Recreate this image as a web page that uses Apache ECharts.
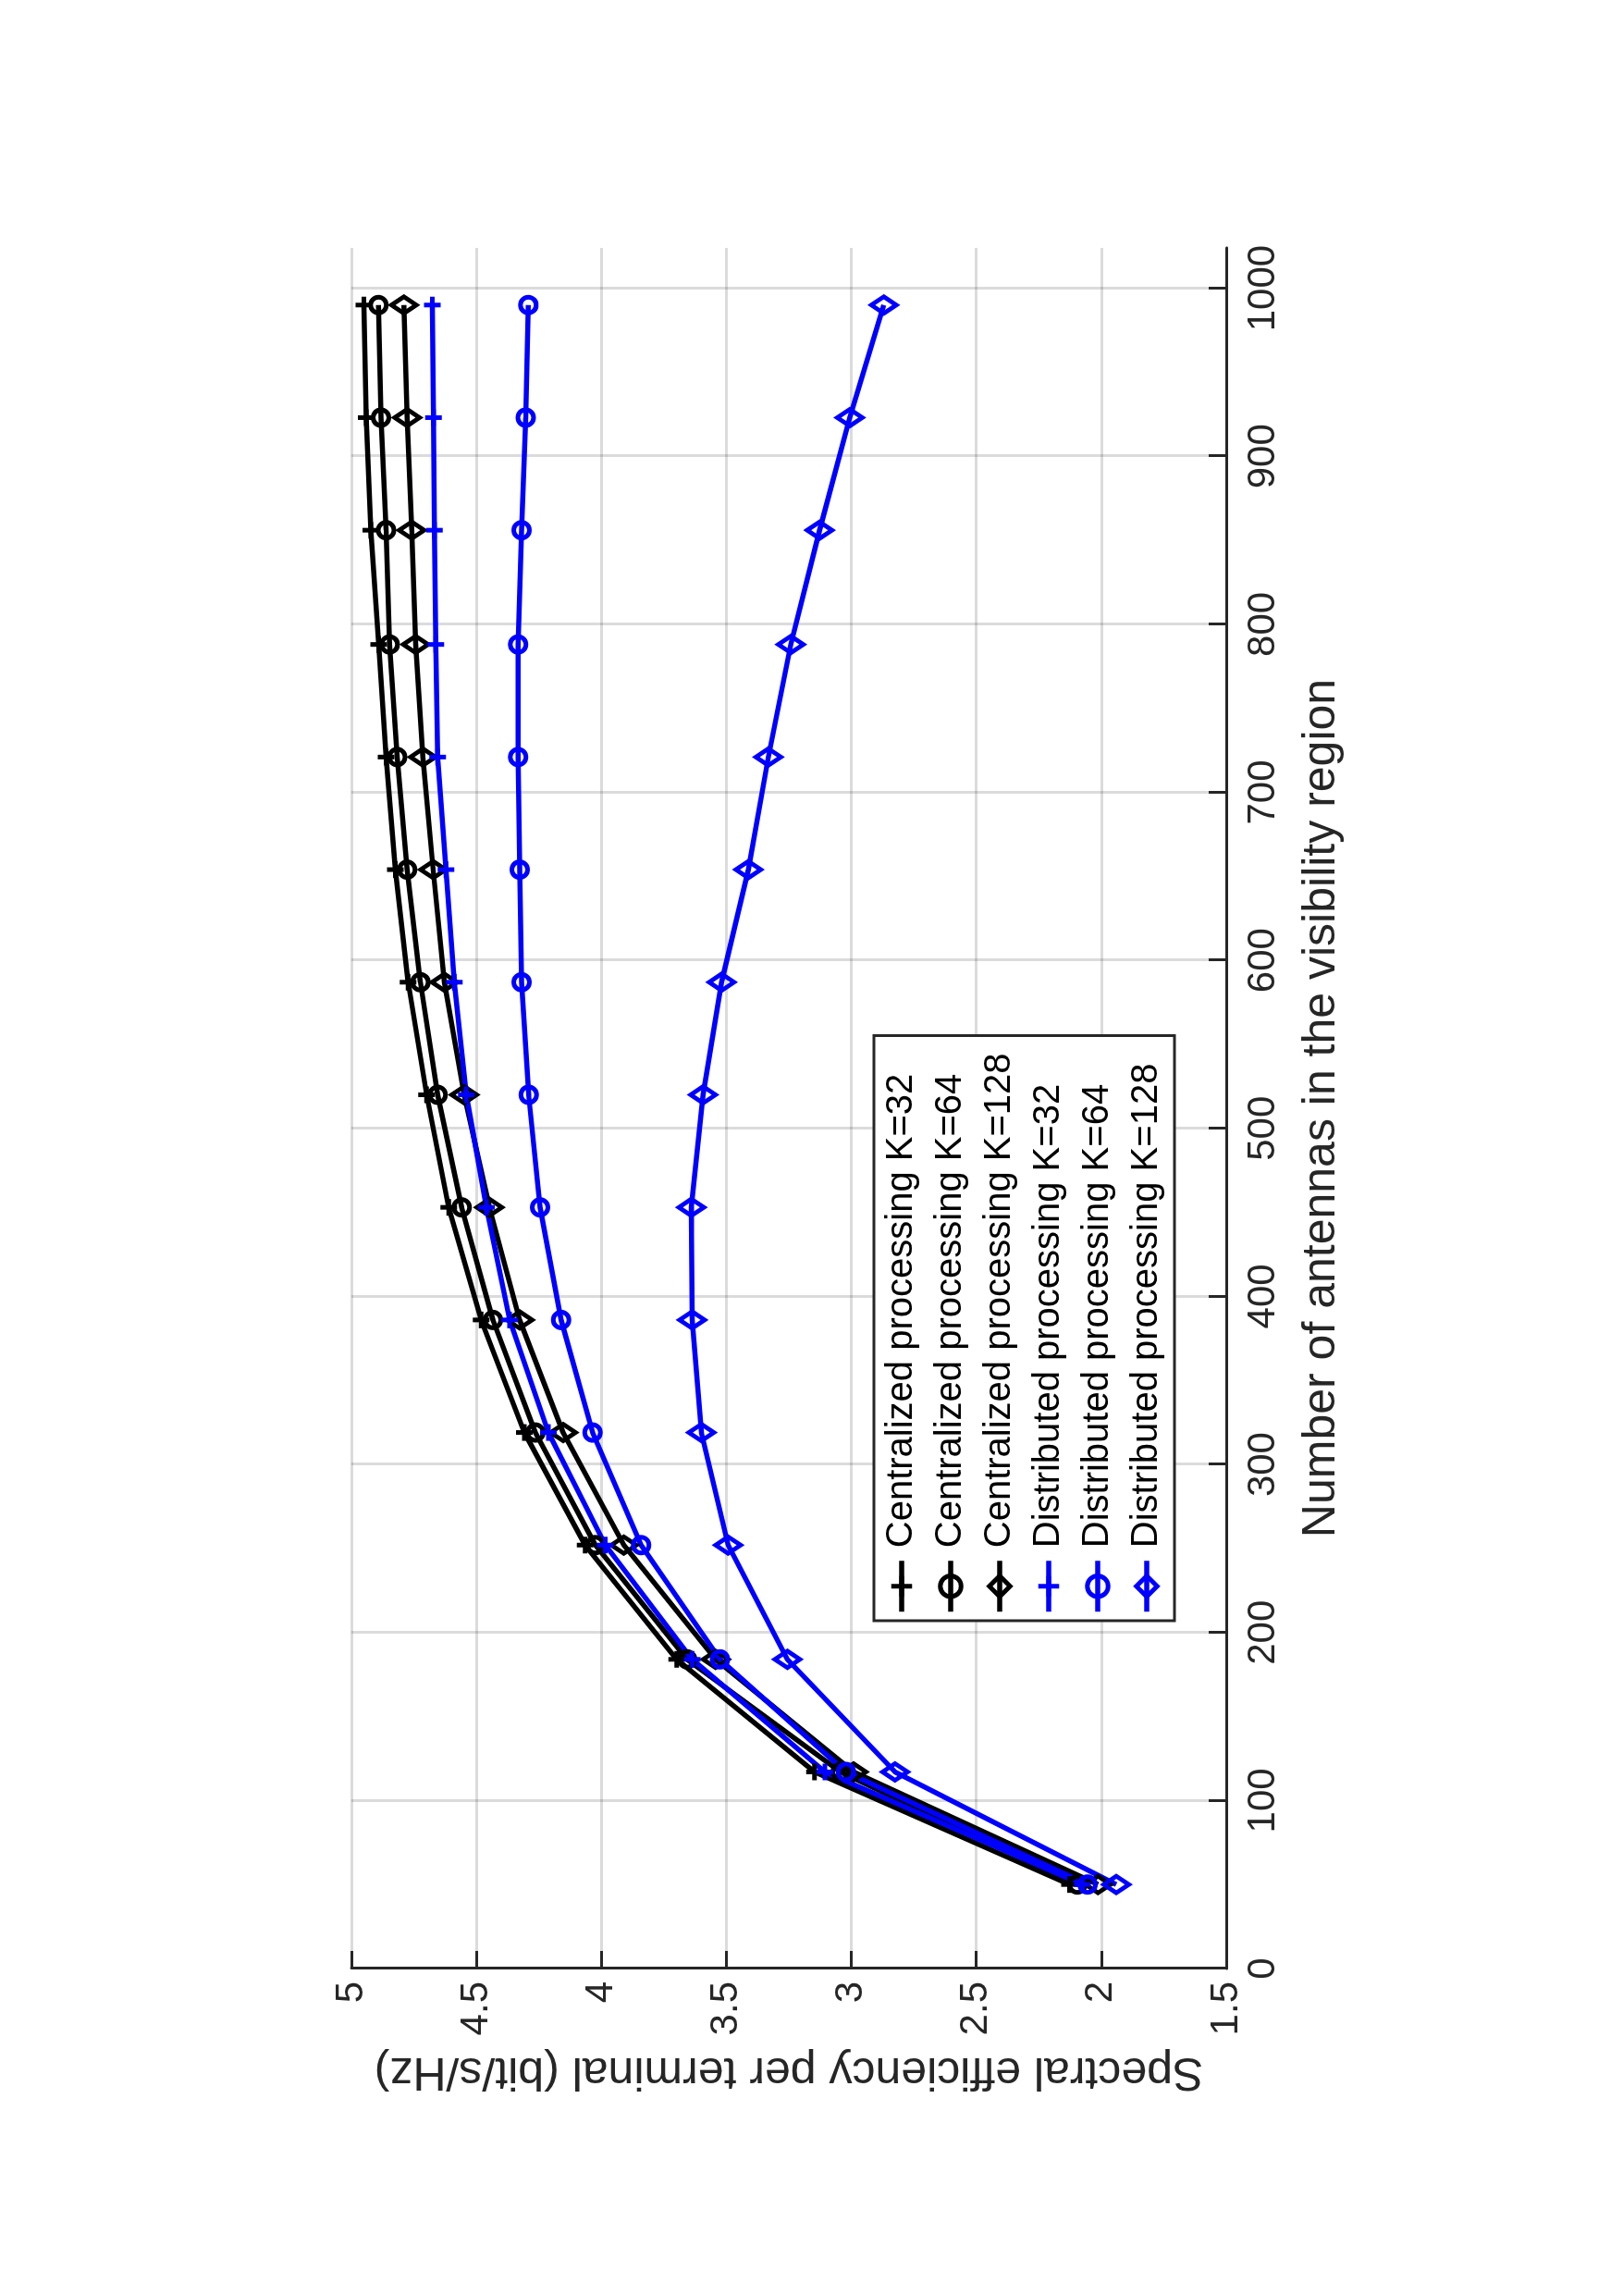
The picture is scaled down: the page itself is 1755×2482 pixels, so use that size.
<!DOCTYPE html>
<html>
<head>
<meta charset="utf-8">
<title>Spectral efficiency vs antennas</title>
<script src="https://cdn.jsdelivr.net/npm/echarts@6/dist/echarts.min.js"></script>
<style>
  html, body {
    margin: 0;
    padding: 0;
    background: #fff;
    overflow: hidden;
    width: 1755px;
    height: 2482px;
  }
  /* the figure is printed turned a quarter turn counter-clockwise */
  #chart {
    position: absolute;
    left: 0;
    top: 0;
    width: 2482px;
    height: 1755px;
    transform-origin: 0 0;
    transform: translate(0, 2482px) rotate(-90deg);
  }
</style>
</head>
<body>
<div id="chart"></div>
<script>
// data
const antennas = [50, 117, 184, 252, 319, 386, 453, 520, 587, 654, 721, 788, 856, 923, 990]

const centralK32 = [2.127, 3.147, 3.699, 4.065, 4.308, 4.481, 4.611, 4.699, 4.773, 4.824, 4.861, 4.891, 4.922, 4.941, 4.950]
const centralK64 = [2.096, 3.043, 3.657, 4.024, 4.264, 4.434, 4.559, 4.655, 4.724, 4.777, 4.817, 4.847, 4.861, 4.882, 4.892]
const centralK128 = [2.013, 2.991, 3.543, 3.910, 4.153, 4.327, 4.448, 4.549, 4.628, 4.673, 4.714, 4.743, 4.759, 4.777, 4.790]
const distribK32 = [2.075, 3.106, 3.637, 3.984, 4.212, 4.367, 4.460, 4.540, 4.588, 4.622, 4.655, 4.662, 4.668, 4.672, 4.676]
const distribK64 = [2.055, 3.022, 3.526, 3.841, 4.035, 4.161, 4.245, 4.291, 4.319, 4.327, 4.333, 4.333, 4.319, 4.303, 4.292]
const distribK128 = [1.940, 2.825, 3.256, 3.493, 3.600, 3.637, 3.640, 3.593, 3.519, 3.412, 3.332, 3.242, 3.127, 3.006, 2.870]

const xTicks = [0, 100, 200, 300, 400, 500, 600, 700, 800, 900, 1000]

const seriesNames = [
  'Centralized processing K=32',
  'Centralized processing K=64',
  'Centralized processing K=128',
  'Distributed processing K=32',
  'Distributed processing K=64',
  'Distributed processing K=128'
]

const FONT = "'Liberation Sans', Arial, sans-serif"
const AXIS_COLOR = '#262626'
const PLUS = 'path://M0,10L20,10M10,0L10,20'

function makeSeries(name, values, color, marker) {
  let symbol = 'circle'
  let size = 17
  if (marker === 'plus') {
    symbol = PLUS
    size = 18
  } else if (marker === 'diamond') {
    symbol = 'diamond'
    size = [18, 27]
  }
  return {
    name: name,
    type: 'line',
    data: antennas.map((a, i) => [a, values[i]]),
    symbol: symbol,
    symbolSize: size,
    showAllSymbol: true,
    clip: false,
    lineStyle: { color: color, width: 5.5 },
    itemStyle: { color: 'rgba(0,0,0,0)', borderColor: color, borderWidth: 5 },
    emphasis: { disabled: true }
  }
}

const chart = echarts.init(document.getElementById('chart'), null, { width: 2482, height: 1755 })

chart.setOption({
  animation: false,
  backgroundColor: '#fff',
  textStyle: { fontFamily: FONT },
  grid: {
    left: 354,
    right: 268,
    top: 380,
    bottom: 429,
    containLabel: false
  },
  legend: {
    orient: 'vertical',
    left: 730,
    top: 945,
    padding: [10, 19, 10, 7],
    itemGap: 13,
    itemWidth: 55,
    itemHeight: 28,
    backgroundColor: '#fff',
    borderColor: AXIS_COLOR,
    borderWidth: 3,
    borderRadius: 0,
    itemStyle: { borderWidth: 5 },
    lineStyle: { width: 5.5 },
    textStyle: { fontSize: 40, color: '#000', fontFamily: FONT, padding: [0, 0, 0, 9] },
    data: seriesNames
  },
  xAxis: {
    type: 'value',
    min: 0,
    max: 1024,
    name: 'Number of antennas in the visibility region',
    nameLocation: 'middle',
    nameGap: 78,
    nameTextStyle: { fontSize: 50, color: AXIS_COLOR, fontFamily: FONT },
    axisLine: { show: true, onZero: false, lineStyle: { color: AXIS_COLOR, width: 3 } },
    axisTick: { show: true, inside: true, length: 19, customValues: xTicks, lineStyle: { color: AXIS_COLOR, width: 3 } },
    axisLabel: {
      customValues: xTicks,
      fontSize: 42,
      color: AXIS_COLOR,
      margin: 19,
      fontFamily: FONT,
      formatter: v => String(v)
    },
    splitLine: { show: true, lineStyle: { color: 'rgba(0,0,0,0.14)', width: 3 } }
  },
  yAxis: {
    type: 'value',
    min: 1.5,
    max: 5,
    interval: 0.5,
    name: 'Spectral efficiency per terminal (bit/s/Hz)',
    nameLocation: 'middle',
    nameGap: 86,
    nameTextStyle: { fontSize: 50, color: AXIS_COLOR, fontFamily: FONT },
    axisLine: { show: true, onZero: false, lineStyle: { color: AXIS_COLOR, width: 3 } },
    axisTick: { show: true, inside: true, length: 19, lineStyle: { color: AXIS_COLOR, width: 3 } },
    axisLabel: { fontSize: 42, color: AXIS_COLOR, margin: 14, fontFamily: FONT, formatter: v => String(v) },
    splitLine: { show: true, lineStyle: { color: 'rgba(0,0,0,0.14)', width: 3 } }
  },
  series: [
    makeSeries(seriesNames[0], centralK32, '#000000', 'plus'),
    makeSeries(seriesNames[1], centralK64, '#000000', 'circle'),
    makeSeries(seriesNames[2], centralK128, '#000000', 'diamond'),
    makeSeries(seriesNames[3], distribK32, '#0000ff', 'plus'),
    makeSeries(seriesNames[4], distribK64, '#0000ff', 'circle'),
    makeSeries(seriesNames[5], distribK128, '#0000ff', 'diamond')
  ]
})
</script>
</body>
</html>
